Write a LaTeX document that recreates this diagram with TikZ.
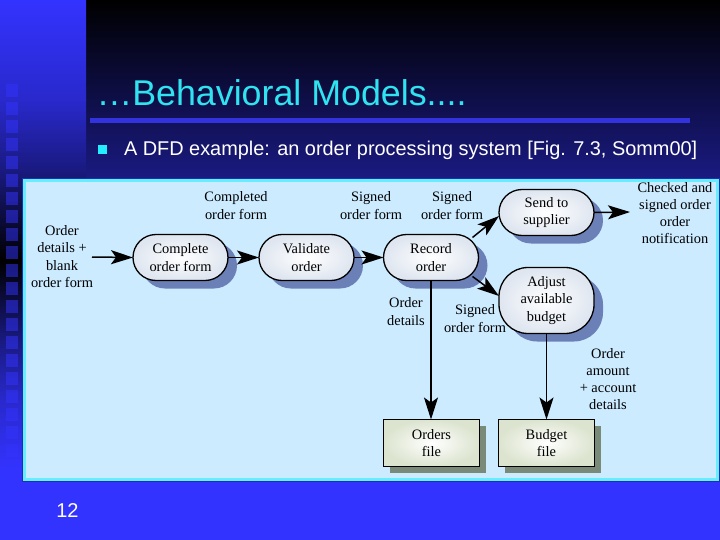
\documentclass[tikz,border=0pt]{standalone}
\usepackage{fontspec}
\setmainfont{Liberation Serif}
\newfontfamily\arialf{Liberation Sans}
\usetikzlibrary{arrows.meta,shadows,calc}
\definecolor{slideblue}{HTML}{3333FF}
\definecolor{panelfill}{HTML}{CCEBFF}
\definecolor{panelline}{HTML}{66EEFF}
\definecolor{panelouter}{HTML}{1F2FB0}
\definecolor{titlecyan}{HTML}{2FE3F0}
\definecolor{bulletcyan}{HTML}{22EEFF}
\definecolor{rulec}{HTML}{3333DD}
\definecolor{procshadow}{HTML}{6C80B8}
\definecolor{fileshadow}{HTML}{7A8A78}
\definecolor{procedge}{HTML}{DFE6F0}
\definecolor{fileedge}{HTML}{DCE4CF}
\tikzset{
  x=1pt,y=-1pt,
  every node/.style={inner sep=0pt,outer sep=0pt},
  lab/.style={align=center,text=black,font=\fontsize{14.4}{17.2}\selectfont},
  proc/.style={lab,draw=black,line width=1.3pt,rounded corners=23pt,minimum width=95pt,minimum height=46pt,
    general shadow={fill=procshadow,shadow xshift=9pt,shadow yshift=-8pt},
    shading=radial,inner color=white,outer color=procedge},
  bigproc/.style={proc,rounded corners=29pt,minimum height=66pt},
  store/.style={lab,draw=black,line width=1.3pt,minimum width=96pt,minimum height=47pt,
    general shadow={fill=fileshadow,shadow xshift=6.5pt,shadow yshift=-6pt},
    shading=radial,inner color=white,outer color=fileedge},
  flow/.style={draw=black,line width=1.5pt,-{Stealth[length=22pt,width=14pt,inset=5pt]}},
  tile/.style={fill=slideblue,opacity=.5},
}
\begin{document}
\begin{tikzpicture}
\useasboundingbox (0,0) rectangle (720,540);
% background
\fill[slideblue] (0,0) rectangle (720,540);
\shade[top color=black,bottom color=slideblue] (86,0) rectangle (720,350);
\shade[top color=slideblue,bottom color=slideblue!80!black] (0,0) rectangle (86,100.5);
\shade[top color=slideblue!80!black,bottom color=slideblue!50!black] (0,100) rectangle (86,170.5);
\shade[top color=slideblue!50!black,bottom color=black] (0,170) rectangle (86,260.5);
\shade[top color=black,bottom color=slideblue!50!black] (0,260) rectangle (86,340.5);
\shade[top color=slideblue!50!black,bottom color=slideblue!80!black] (0,340) rectangle (86,400.5);
\shade[top color=slideblue!80!black,bottom color=slideblue] (0,400) rectangle (86,470);
\foreach \k in {0,...,21}{
  \fill[tile] (6,84+18*\k) rectangle (18,97+18*\k);
}
% title block
\fill[rulec] (90,118) rectangle (690,123);
\node[anchor=base west,text=titlecyan,font=\arialf\fontsize{35.8}{40}\selectfont] (title) at (96.5,106) {…Behavioral Models....};
\fill[bulletcyan] (98,145) rectangle (107,154);
\node[anchor=base west,text=white,font=\arialf\fontsize{19.9}{24}\selectfont] (sub) at (124,155.5) {A DFD example: an order processing system [Fig. 7.3, Somm00]};
\node[anchor=base,text=white,font=\arialf\fontsize{20}{24}\selectfont] (num) at (67.5,517.5) {12};
% panel
\draw[panelouter,line width=1pt] (22.5,178.5) rectangle (719,481.5);
\draw[panelline,line width=2.5pt,fill=panelfill] (24.5,180.5) rectangle (717.5,479.5);
% nodes
\node[proc] (complete) at (180.5,257.5) {Complete\\order form};
\node[proc] (validate) at (306.5,257.5) {Validate\\order};
\node[proc] (record) at (431,257.5) {Record\\order};
\node[proc] (send) at (546.5,212.5) {Send to\\supplier};
\node[bigproc] (adjust) at (546.5,300.5) {Adjust\\available\\budget};
\node[store] (orders) at (431.5,443) {Orders\\file};
\node[store] (budget) at (546.5,443) {Budget\\file};
% free ends
\coordinate (inflow) at (92,257);
\coordinate (outflow) at (630,212);
% connectors
\draw[flow] (inflow) -- (complete.west);
\draw[flow] (complete.east) -- (validate.west);
\draw[flow] (validate.east) -- (record.west);
\draw[flow] ([shift={(-6,3)}]record.north east) -- ([shift={(0,3.5)}]send.west);
\draw[flow] ([shift={(-6,-4)}]record.south east) -- ([shift={(0,-4.5)}]adjust.west);
\draw[flow,line width=1.3pt] (record.south) -- (record.south |- orders.north);
\draw[flow,line width=1.3pt] (adjust.south) -- (budget.north);
\draw[flow] (send.east) -- (outflow);
% labels
\node[lab] (l1) at (236,205.5) {Completed\\order form};
\node[lab] (l2) at (62,256.5) {Order\\details +\\blank\\order form};
\node[lab] (l3) at (371,205.5) {Signed\\order form};
\node[lab] (l4) at (452,205.5) {Signed\\order form};
\node[lab] (l5) at (675,213) {Checked and\\signed order\\order\\notification};
\node[lab] (l6) at (406,311.5) {Order\\details};
\node[lab] (l7) at (475,318.5) {Signed\\order form};
\node[lab] (l8) at (608,379) {Order\\amount\\+ account\\details};
\end{tikzpicture}
\end{document}
